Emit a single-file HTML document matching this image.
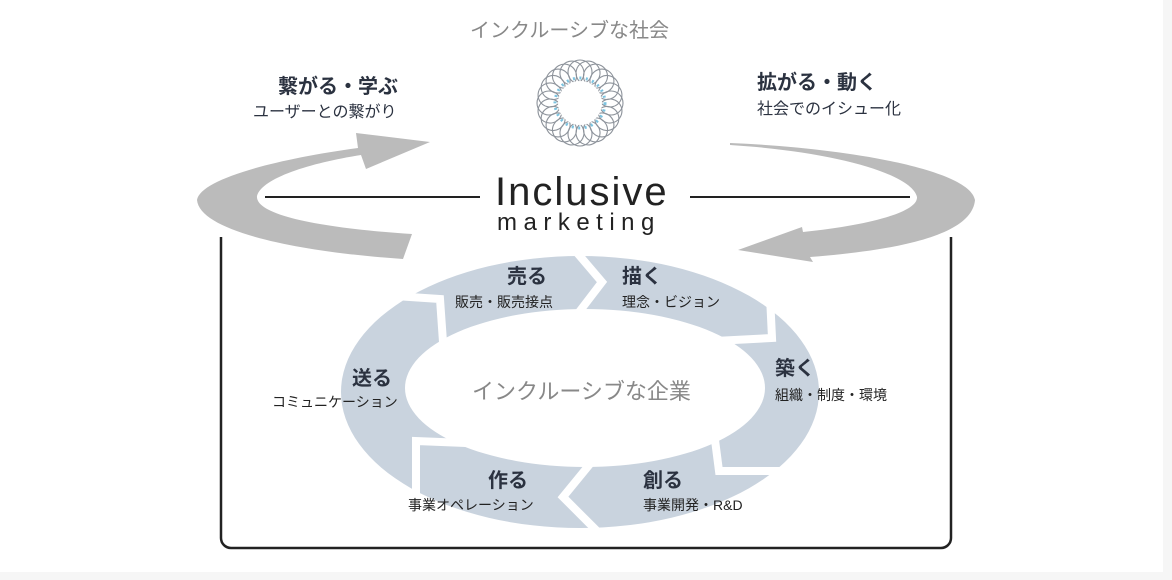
<!DOCTYPE html>
<html><head><meta charset="utf-8"><style>
html,body{margin:0;padding:0;background:#f6f6f6;}
#w{position:relative;width:1163px;height:572px;background:#fff;overflow:hidden;font-family:"Liberation Sans","Noto Sans CJK JP",sans-serif;}
.t{position:absolute;white-space:nowrap;color:#2b3240;}
.h{font-weight:bold;font-size:20px;}
.s{font-size:14px;color:#222;}
</style></head><body><div id="w">
<svg width="1172" height="580" style="position:absolute;left:0;top:0">
<path fill="#c9d3de" fill-rule="evenodd" d="M341,392 a239,136 0 1,0 478,0 a239,136 0 1,0 -478,0 Z M405,388 a180,79 0 1,0 360,0 a180,79 0 1,0 -360,0 Z"/>
<g stroke="#fff" stroke-width="8" fill="none" stroke-linejoin="miter">
<polyline points="573,248 602,282 576,316"/>
<polyline points="770,296 772,338 715,341"/>
<polyline points="715,440 719,471 822,471"/>
<polyline points="590,464 563,497 598,532"/>
<polyline points="466,443 416,441 416,532"/>
<polyline points="443,342 440,299 395,296"/>
</g>
<path d="M221,237 V538 a10,10 0 0 0 10,10 H941 a10,10 0 0 0 10,-10 V237" fill="none" stroke="#222" stroke-width="2.5"/>
<path fill="#bbb" d="M358,148 C270,160 200,180 197,200 C200,232 300,252 403,259 L412,234 C320,228 255,215 257,196 C262,178 310,163 361,155 L366,169 L430,142 L356,133 Z"/>
<path fill="#bbb" d="M730,143 C850,148 970,170 975,200 C972,235 900,250 810,257 L813,262 L738,250 L802,227 L803,232 C870,225 918,212 917,197 C912,175 840,152 730,145 Z"/>
<line x1="265" y1="197" x2="480" y2="197" stroke="#222" stroke-width="2"/>
<line x1="690" y1="197" x2="910" y2="197" stroke="#222" stroke-width="2"/>
<g fill="none" stroke="#8d939b" stroke-width="1.1">
<circle cx="580" cy="72" r="12" transform="rotate(0 580 103)"/><circle cx="580" cy="72" r="12" transform="rotate(15 580 103)"/><circle cx="580" cy="72" r="12" transform="rotate(30 580 103)"/><circle cx="580" cy="72" r="12" transform="rotate(45 580 103)"/><circle cx="580" cy="72" r="12" transform="rotate(60 580 103)"/><circle cx="580" cy="72" r="12" transform="rotate(75 580 103)"/><circle cx="580" cy="72" r="12" transform="rotate(90 580 103)"/><circle cx="580" cy="72" r="12" transform="rotate(105 580 103)"/><circle cx="580" cy="72" r="12" transform="rotate(120 580 103)"/><circle cx="580" cy="72" r="12" transform="rotate(135 580 103)"/><circle cx="580" cy="72" r="12" transform="rotate(150 580 103)"/><circle cx="580" cy="72" r="12" transform="rotate(165 580 103)"/><circle cx="580" cy="72" r="12" transform="rotate(180 580 103)"/><circle cx="580" cy="72" r="12" transform="rotate(195 580 103)"/><circle cx="580" cy="72" r="12" transform="rotate(210 580 103)"/><circle cx="580" cy="72" r="12" transform="rotate(225 580 103)"/><circle cx="580" cy="72" r="12" transform="rotate(240 580 103)"/><circle cx="580" cy="72" r="12" transform="rotate(255 580 103)"/><circle cx="580" cy="72" r="12" transform="rotate(270 580 103)"/><circle cx="580" cy="72" r="12" transform="rotate(285 580 103)"/><circle cx="580" cy="72" r="12" transform="rotate(300 580 103)"/><circle cx="580" cy="72" r="12" transform="rotate(315 580 103)"/><circle cx="580" cy="72" r="12" transform="rotate(330 580 103)"/><circle cx="580" cy="72" r="12" transform="rotate(345 580 103)"/>
</g>
<circle cx="580" cy="103" r="25" fill="none" stroke="#7cc3e0" stroke-width="3" stroke-dasharray="2 4.5"/>
<circle cx="580" cy="103" r="22" fill="#fff"/>
</svg>
<div class="t" style="left:470px;top:14px;font-size:20px;color:#888;">インクルーシブな社会</div>
<div class="t h" style="left:278px;top:70px;">繋がる・学ぶ</div>
<div class="t" style="left:253px;top:98px;font-size:16px;">ユーザーとの繋がり</div>
<div class="t h" style="left:757px;top:66px;">拡がる・動く</div>
<div class="t" style="left:757px;top:95px;font-size:16px;">社会でのイシュー化</div>
<div class="t" style="left:495px;top:170px;font-size:40px;color:#222;letter-spacing:2px;">Inclusive</div>
<div class="t" style="left:497px;top:209px;font-size:24px;color:#222;letter-spacing:6.5px;">marketing</div>
<div class="t h" style="left:507px;top:260px;">売る</div>
<div class="t s" style="left:455px;top:292px;">販売・販売接点</div>
<div class="t h" style="left:622px;top:260px;">描く</div>
<div class="t s" style="left:622px;top:292px;">理念・ビジョン</div>
<div class="t h" style="left:775px;top:352px;">築く</div>
<div class="t s" style="left:775px;top:385px;">組織・制度・環境</div>
<div class="t h" style="left:352px;top:362px;">送る</div>
<div class="t s" style="left:272px;top:392px;">コミュニケーション</div>
<div class="t h" style="left:488px;top:464px;">作る</div>
<div class="t s" style="left:408px;top:495px;">事業オペレーション</div>
<div class="t h" style="left:643px;top:464px;">創る</div>
<div class="t s" style="left:643px;top:495px;">事業開発・R&amp;D</div>
<div class="t" style="left:472px;top:374px;font-size:22px;color:#888;">インクルーシブな企業</div>
</div></body></html>
